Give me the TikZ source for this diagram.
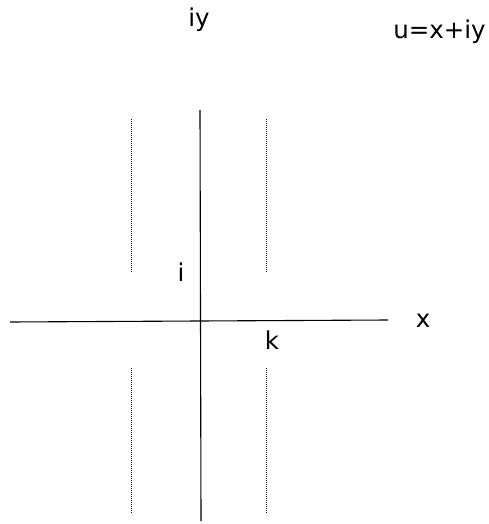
\documentclass[tikz,border=0pt]{standalone}
\usepackage{fontspec}
\setmainfont{DejaVu Sans}
\begin{document}
\begin{tikzpicture}[x=1pt,y=-1pt,
  lbl/.style={inner sep=0pt,font=\fontsize{24.5}{28}\selectfont},
  axis/.style={line width=1.1pt,black},
  guide/.style={line width=0.8pt,black!90,dash pattern=on 1pt off 1pt}]
\useasboundingbox (0,0) rectangle (489,524);
% axes
\coordinate (xl) at (10,322);
\coordinate (xr) at (388,320);
\coordinate (yt) at (200,110);
\coordinate (yb) at (201,521);
\draw[axis] (xl) -- (xr);
\draw[axis] (yt) -- (yb);
% dotted guides
\coordinate (a1) at (131,119); \coordinate (a2) at (131,272);
\coordinate (b1) at (131,368); \coordinate (b2) at (131,514);
\coordinate (c1) at (266,119); \coordinate (c2) at (266,273);
\coordinate (d1) at (266,368); \coordinate (d2) at (266,514);
\draw[guide] (a1) -- (a2);
\draw[guide] (b1) -- (b2);
\draw[guide] (c1) -- (c2);
\draw[guide] (d1) -- (d2);
% labels
\node[lbl] (iy) at (199,20) {iy};
\node[lbl] (u) at (439.5,32) {u=x+iy};
\node[lbl] (i) at (181,272) {i};
\node[lbl] (k) at (272,340) {k};
\node[lbl] (x) at (423,321) {x};
\end{tikzpicture}
\end{document}
